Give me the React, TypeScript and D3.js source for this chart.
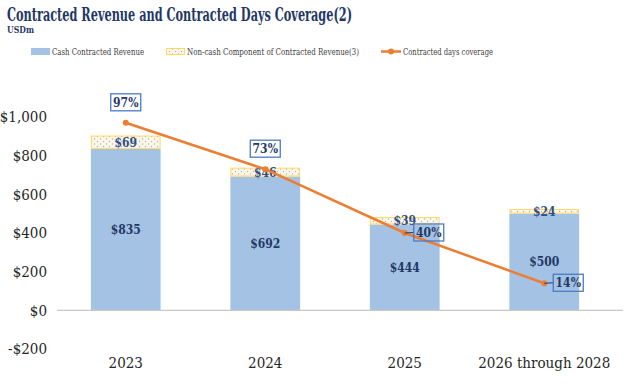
import * as d3 from 'd3';
import React from 'react';

const categories = ['2023', '2024', '2025', '2026 through 2028'];
const cashRevenue = [835, 692, 444, 500];
const nonCashRevenue = [69, 46, 39, 24];
const coverage = [97, 73, 40, 14];
const yTicks = [-200, 0, 200, 400, 600, 800, 1000];
// where the % box sits relative to its point
const coverageLabelSide = ['above', 'above', 'right', 'right'];

const W = 640;
const H = 391;
const navy = '#1F3864';
const serif = "'DejaVu Serif'";

function App() {
    const x = d3.scaleBand<string>()
        .domain(categories)
        .range([56, 614])
        .paddingInner(0.5)
        .paddingOuter(0.25);
    const y = d3.scaleLinear().domain([-200, 1000]).range([349, 117]);
    const yPct = d3.scaleLinear().domain([-20, 100]).range([349, 117]);

    const money = (d: number) => (d < 0 ? '-$' : '$') + d3.format(',')(Math.abs(d));

    const cx = (c: string) => (x(c) as number) + x.bandwidth() / 2;
    const line = d3.line<number>()
        .x((d, i) => cx(categories[i]))
        .y((d) => yPct(d));

    const bw = x.bandwidth();

    return (
        <svg width={W} height={H} style={{ position: 'absolute', left: 0, top: 0, fontFamily: serif, fontStretch: 'condensed' }}>
            <defs>
                <pattern id="dots" width="6" height="5" patternUnits="userSpaceOnUse">
                    <rect width="6" height="5" fill="#FBF6EA" />
                    <circle cx="1.5" cy="1.5" r="0.7" fill="#B8B2A6" />
                    <circle cx="4.5" cy="4" r="0.7" fill="#B8B2A6" />
                </pattern>
            </defs>

            {/* title */}
            <text x={7} y={21} fontSize={19} fontWeight="bold" fill={navy}
                textLength={345} lengthAdjust="spacingAndGlyphs">
                Contracted Revenue and Contracted Days Coverage(2)
            </text>
            <text x={7} y={33} fontSize={10} fontWeight="bold" fill={navy}
                textLength={27} lengthAdjust="spacingAndGlyphs">USDm</text>

            {/* legend */}
            <g fontSize={10} fill="#404040">
                <rect x={31} y={48} width={19} height={7} fill="#A4C2E4" />
                <text x={52} y={55} textLength={92} lengthAdjust="spacingAndGlyphs">Cash Contracted Revenue</text>
                <rect x={166.5} y={48.5} width={18} height={6} fill="url(#dots)" stroke="#FFD966" />
                <text x={187} y={55} textLength={172} lengthAdjust="spacingAndGlyphs">Non-cash Component of Contracted Revenue(3)</text>
                <line x1={381} x2={401} y1={51.5} y2={51.5} stroke="#ED7D31" strokeWidth={2.5} />
                <circle cx={391} cy={51.5} r={3} fill="#ED7D31" />
                <text x={403} y={55} textLength={90} lengthAdjust="spacingAndGlyphs">Contracted days coverage</text>
            </g>

            {/* y axis labels */}
            <g fontSize={15} fill="#262626" textAnchor="end">
                {yTicks.map((t) => (
                    <text key={t} x={47} y={y(t)} dy="0.35em">{money(t)}</text>
                ))}
            </g>

            {/* bars */}
            {categories.map((c, i) => {
                const x0 = x(c) as number;
                const cashTop = y(cashRevenue[i]);
                const ncTop = y(cashRevenue[i] + nonCashRevenue[i]);
                return (
                    <g key={c}>
                        <rect x={x0} y={cashTop} width={bw} height={y(0) - cashTop} fill="#A4C2E4" />
                        <rect x={x0 + 0.5} y={ncTop + 0.5} width={bw - 1} height={cashTop - ncTop - 1}
                            fill="url(#dots)" stroke="#FFD966" strokeWidth={1} />
                        <text x={cx(c)} y={(cashTop + y(0)) / 2} dy="0.35em" textAnchor="middle"
                            fontSize={12} fontWeight="bold" fill={navy}>{money(cashRevenue[i])}</text>
                        <text x={cx(c)} y={(ncTop + cashTop) / 2} dy="0.38em" textAnchor="middle"
                            fontSize={12} fontWeight="bold" fill="#2F4F8A">{money(nonCashRevenue[i])}</text>
                    </g>
                );
            })}

            {/* zero line */}
            <line x1={57} x2={623} y1={y(0)} y2={y(0)} stroke="#C8C8C8" strokeWidth={1.2} />

            {/* x labels */}
            <g fontSize={15} fill="#262626" textAnchor="middle">
                {categories.map((c) => (
                    <text key={c} x={cx(c)} y={368}>{c}</text>
                ))}
            </g>

            {/* coverage line */}
            <path d={line(coverage) || ''} fill="none" stroke="#ED7D31" strokeWidth={2.5} />
            {coverage.map((v, i) => {
                const px = cx(categories[i]);
                const py = yPct(v);
                const side = coverageLabelSide[i];
                const bx = side === 'above' ? px - 15 : px + 9;
                const by = side === 'above' ? py - 29 : py - 9;
                return (
                    <g key={i}>
                        <circle cx={px} cy={py} r={3} fill="#ED7D31" />
                        {side === 'right' && (
                            <line x1={px} y1={py} x2={bx} y2={by + 8.5} stroke={navy} strokeWidth={1} />
                        )}
                        <rect x={bx} y={by} width={30} height={17} fill="none" stroke="#4A7BC4" strokeWidth={1.3} />
                        <text x={bx + 15} y={by + 8.5} dy="0.36em" textAnchor="middle"
                            fontSize={12} fontWeight="bold" fill={navy}>{v}%</text>
                    </g>
                );
            })}
        </svg>
    );
}

export default App;
